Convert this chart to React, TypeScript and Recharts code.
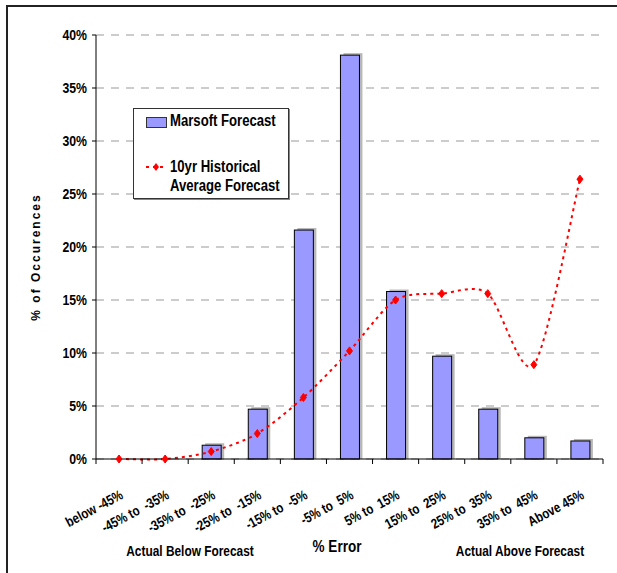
import { BarChart, Bar, Line, XAxis, YAxis, CartesianGrid } from "recharts";

const categories = [
  "below -45%",
  "-45% to  -35%",
  "-35% to  -25%",
  "-25% to  -15%",
  "-15% to  -5%",
  "-5% to  5%",
  "5% to  15%",
  "15% to  25%",
  "25% to  35%",
  "35% to  45%",
  "Above 45%",
];
const marsoft = [0, 0, 1.3, 4.7, 21.6, 38.1, 15.8, 9.7, 4.7, 2.0, 1.7];
const historical = [0, 0, 0.7, 2.4, 5.8, 10.2, 15.0, 15.6, 15.6, 8.9, 26.4];
const yTicks = [0, 5, 10, 15, 20, 25, 30, 35, 40];

const data = categories.map((name, i) => ({ name, marsoft: marsoft[i], hist: historical[i] }));

const FONT = "'Liberation Sans', Arial, sans-serif";
const SQUEEZE = 0.82; // Arial Narrow look
const W = 617;
const H = 573;
const PLOT_LEFT = 96;
const PLOT_RIGHT = 603;
const BAND = (PLOT_RIGHT - PLOT_LEFT) / categories.length;

// Excel-like smoothed line (Catmull-Rom through the points, slightly tighter)
function excelSmooth(context: any) {
  let pts: [number, number][] = [];
  const k = 7;
  return {
    areaStart() {},
    areaEnd() {},
    lineStart() {
      pts = [];
    },
    point(x: number, y: number) {
      pts.push([+x, +y]);
    },
    lineEnd() {
      if (!pts.length) return;
      context.moveTo(pts[0][0], pts[0][1]);
      for (let i = 0; i < pts.length - 1; i++) {
        const p0 = pts[Math.max(i - 1, 0)];
        const p1 = pts[i];
        const p2 = pts[i + 1];
        const p3 = pts[Math.min(i + 2, pts.length - 1)];
        context.bezierCurveTo(
          p1[0] + (p2[0] - p0[0]) / k,
          p1[1] + (p2[1] - p0[1]) / k,
          p2[0] - (p3[0] - p1[0]) / k,
          p2[1] - (p3[1] - p1[1]) / k,
          p2[0],
          p2[1]
        );
      }
    },
  };
}

// narrow bold text at (x, y), optionally rotated
function NText({ x, y, size, anchor = "start", angle = 0, children }: any) {
  return (
    <text
      transform={`translate(${x}, ${y}) rotate(${angle}) scale(${SQUEEZE}, 1)`}
      textAnchor={anchor}
      fontFamily={FONT}
      fontWeight="bold"
      fontSize={size}
      fill="#000"
      style={{ whiteSpace: "pre" }}
    >
      {children}
    </text>
  );
}

function ShadowBar(props: any) {
  const { x, y, width, height } = props;
  if (!height || height <= 0) return null;
  return (
    <g>
      <rect x={x + 3} y={y - 2} width={width} height={height + 2} fill="#b8b8b8" />
      <rect x={x} y={y} width={width} height={height} fill="#9999FF" stroke="#000" strokeWidth={1} />
    </g>
  );
}

function Diamond(props: any) {
  const { cx, cy } = props;
  if (cx == null || cy == null) return null;
  return (
    <polygon
      points={`${cx},${cy - 4} ${cx + 3},${cy} ${cx},${cy + 4} ${cx - 3},${cy}`}
      fill="#FF0000"
      stroke="#FF0000"
    />
  );
}

function XTick(props: any) {
  const { x, y, payload, index } = props;
  return (
    <g>
      <line x1={x - BAND / 2} y1={y} x2={x - BAND / 2} y2={y + 5} stroke="#000" />
      {index === categories.length - 1 && (
        <line x1={x + BAND / 2} y1={y} x2={x + BAND / 2} y2={y + 5} stroke="#000" />
      )}
      <NText x={x + 5} y={y + 39} size={14} anchor="end" angle={-28}>
        {payload.value}
      </NText>
    </g>
  );
}

function YTick(props: any) {
  const { x, y, payload } = props;
  return (
    <NText x={x} y={y + 5} size={15} anchor="end">
      {`${payload.value}%`}
    </NText>
  );
}

function LegendBox() {
  const label = {
    position: "absolute" as const,
    left: 36,
    whiteSpace: "nowrap" as const,
    transform: `scaleX(${SQUEEZE})`,
    transformOrigin: "left top",
  };
  return (
    <div
      style={{
        position: "absolute",
        left: 133,
        top: 108,
        width: 154,
        height: 89,
        border: "1px solid #333",
        background: "#fff",
        fontFamily: FONT,
        fontWeight: "bold",
        fontSize: 16,
        color: "#000",
        boxShadow: "1px 1px 0 #888",
      }}
    >
      <div style={{ position: "absolute", left: 12, top: 8, width: 19, height: 9, background: "#9999FF", border: "1px solid #333" }} />
      <div style={{ ...label, top: 3 }}>Marsoft Forecast</div>
      <svg style={{ position: "absolute", left: 10, top: 53 }} width={24} height={10}>
        <line x1={2} y1={5} x2={22} y2={5} stroke="#FF0000" strokeWidth={2} strokeDasharray="3 4" />
        <polygon points="12,1 15,5 12,9 9,5" fill="#FF0000" />
      </svg>
      <div style={{ ...label, top: 48, lineHeight: "19px" }}>
        10yr Historical
        <br />
        Average Forecast
      </div>
    </div>
  );
}

export default function App() {
  return (
    <div style={{ position: "relative", width: W, height: H, background: "#fff", overflow: "hidden" }}>
      <style>{"html, body { margin: 0; overflow: hidden; }"}</style>
      <div style={{ position: "absolute", left: 0, top: 0 }}>
        <BarChart width={W} height={H} data={data} margin={{ top: 35, right: W - PLOT_RIGHT, bottom: 0, left: 0 }} barSize={19}>
          <CartesianGrid vertical={false} stroke="#999" strokeDasharray="8 7" />
          <XAxis
            dataKey="name"
            height={114}
            interval={0}
            tickLine={false}
            tickSize={0}
            tickMargin={0}
            axisLine={{ stroke: "#000" }}
            tick={<XTick />}
          />
          <YAxis
            width={PLOT_LEFT}
            domain={[0, 40]}
            ticks={yTicks}
            axisLine={{ stroke: "#000" }}
            tickLine={{ stroke: "#000" }}
            tickSize={4}
            tickMargin={5}
            tick={<YTick />}
          />
          <Bar dataKey="marsoft" name="Marsoft Forecast" shape={<ShadowBar />} isAnimationActive={false} />
          <Line
            dataKey="hist"
            name="10yr Historical Average Forecast"
            type={excelSmooth as any}
            stroke="#FF0000"
            strokeWidth={2}
            strokeDasharray="3 4"
            dot={<Diamond />}
            activeDot={false}
            isAnimationActive={false}
          />
        </BarChart>
      </div>
      <LegendBox />
      <svg style={{ position: "absolute", left: 0, top: 0, pointerEvents: "none" }} width={W} height={H}>
        <path d={`M7,${H} L7,6 L${W},6`} fill="none" stroke="#222" strokeWidth={2} />
        <text
          x={37}
          y={257}
          textAnchor="middle"
          dominantBaseline="middle"
          transform="rotate(-90, 37, 257)"
          fontFamily={FONT}
          fontWeight="bold"
          fontSize={12}
          letterSpacing={2}
          fill="#000"
        >
          % of Occurences
        </text>
        <NText x={190} y={556} size={14.5} anchor="middle">
          Actual Below Forecast
        </NText>
        <NText x={337} y={552} size={16.5} anchor="middle">
          % Error
        </NText>
        <NText x={520} y={556} size={14.5} anchor="middle">
          Actual Above Forecast
        </NText>
      </svg>
    </div>
  );
}
